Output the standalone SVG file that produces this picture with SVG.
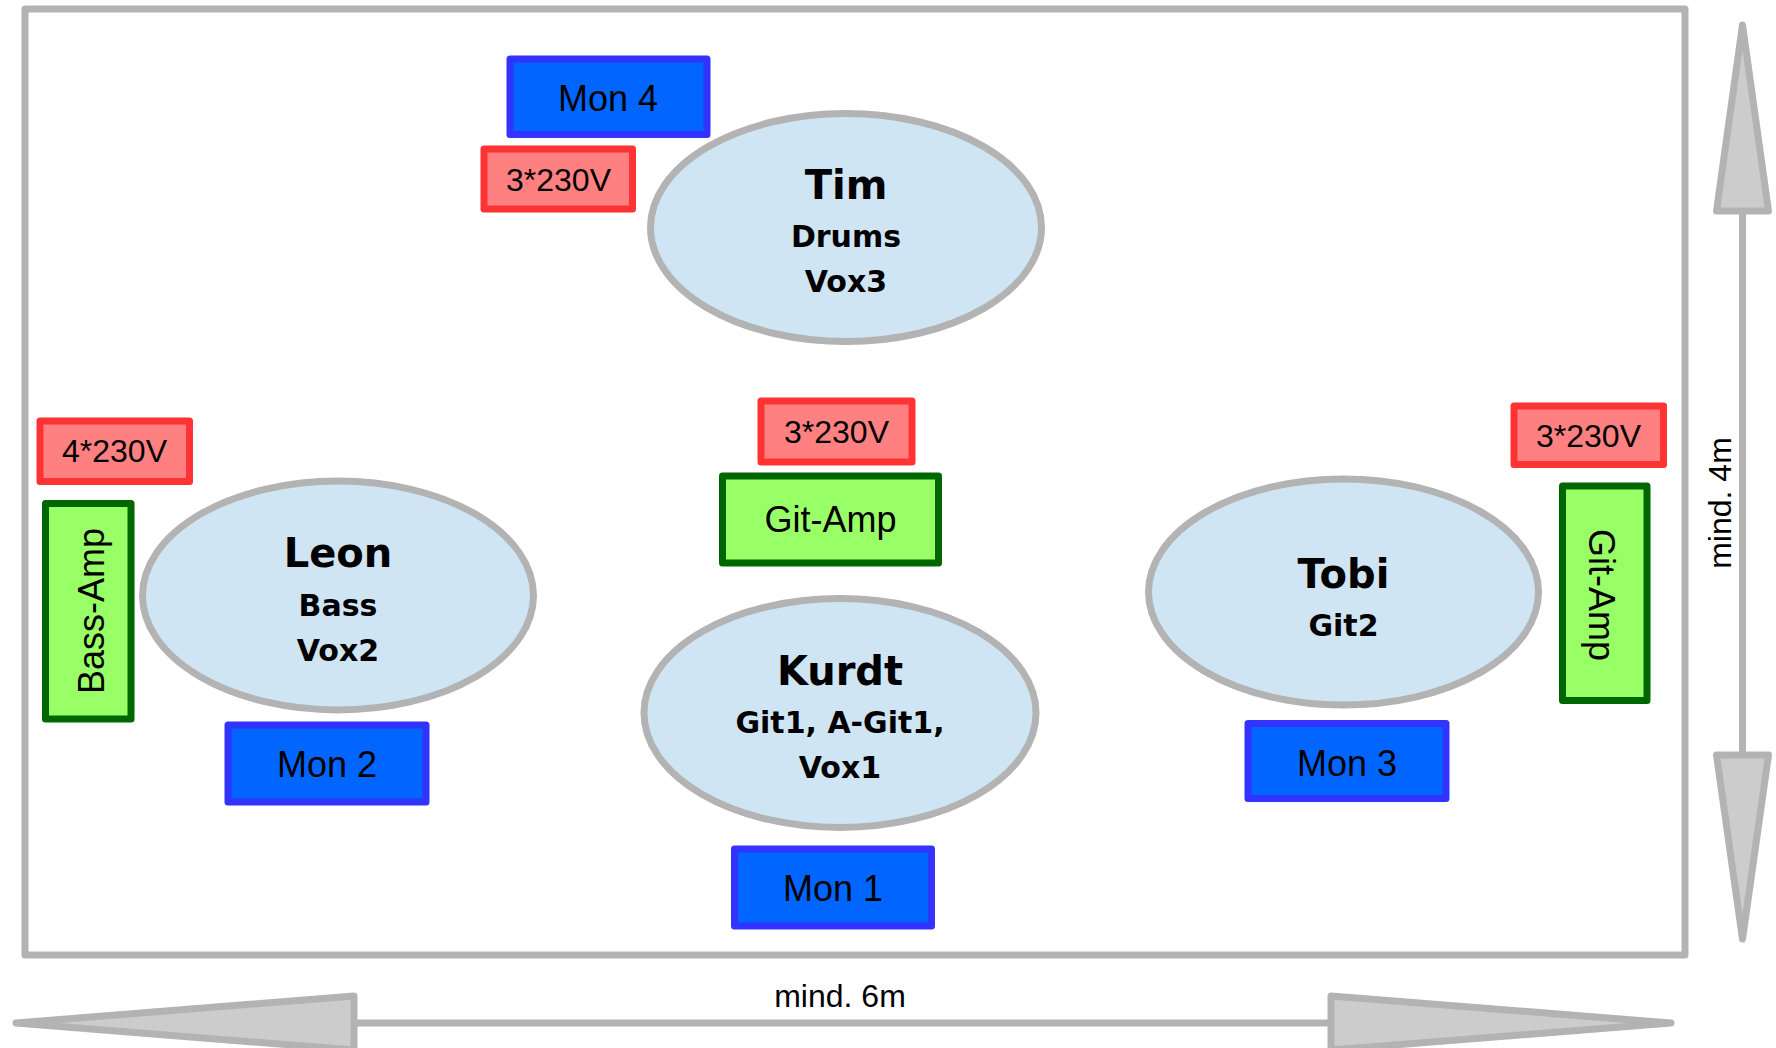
<svg xmlns="http://www.w3.org/2000/svg" width="1776" height="1048" viewBox="0 0 1776 1048">
<style>
.frame{fill:#ffffff;stroke:#b3b3b3;stroke-width:7;stroke-linejoin:round}
.mon{fill:#0066ff;stroke:#3333ff;stroke-width:7;stroke-linejoin:round}
.pwr{fill:#ff8080;stroke:#ff3333;stroke-width:7;stroke-linejoin:round}
.amp{fill:#99ff66;stroke:#006600;stroke-width:7;stroke-linejoin:round}
.pers{fill:#cfe5f3;stroke:#b3b3b3;stroke-width:7}
.line{stroke:#b3b3b3;stroke-width:7;fill:none}
.head{fill:#cccccc;stroke:#b3b3b3;stroke-width:7;stroke-linejoin:round}
.lbl{font-family:"Liberation Sans",Arial,sans-serif;fill:#000;text-anchor:middle}
.name{font-family:"DejaVu Sans",Verdana,sans-serif;font-weight:bold;font-size:40px;fill:#000;text-anchor:middle}
.sub{font-family:"DejaVu Sans",Verdana,sans-serif;font-weight:bold;font-size:30px;fill:#000;text-anchor:middle}
</style>
<rect class="frame" x="25" y="9" width="1660" height="946"/>

<g id="tim">
<ellipse class="pers" cx="846" cy="227.5" rx="195.5" ry="114"/>
<text class="name" x="846" y="199">Tim</text>
<text class="sub" x="846" y="247">Drums</text>
<text class="sub" x="846" y="292">Vox3</text>
</g>
<g id="mon4">
<rect class="mon" x="510" y="59" width="197" height="75.5"/>
<text class="lbl" x="608" y="110.5" font-size="36">Mon 4</text>
</g>
<g id="pwr-tim">
<rect class="pwr" x="484" y="149" width="148.5" height="60"/>
<text class="lbl" x="558.5" y="190.5" font-size="32">3*230V</text>
</g>

<g id="leon">
<ellipse class="pers" cx="338" cy="595.5" rx="195.5" ry="114.5"/>
<text class="name" x="338" y="566.5">Leon</text>
<text class="sub" x="338" y="616">Bass</text>
<text class="sub" x="338" y="661">Vox2</text>
</g>
<g id="pwr-leon">
<rect class="pwr" x="40" y="421" width="149.5" height="60.5"/>
<text class="lbl" x="114.5" y="462" font-size="32">4*230V</text>
</g>
<g id="bass-amp">
<rect class="amp" x="45.5" y="503.5" width="85.5" height="215.5"/>
<text class="lbl" font-size="36" transform="translate(104,611) rotate(-90)" x="0" y="0">Bass-Amp</text>
</g>
<g id="mon2">
<rect class="mon" x="228" y="725" width="198" height="77"/>
<text class="lbl" x="327" y="776.5" font-size="36">Mon 2</text>
</g>

<g id="pwr-kurdt">
<rect class="pwr" x="761" y="401" width="151" height="61"/>
<text class="lbl" x="836.5" y="442.5" font-size="32">3*230V</text>
</g>
<g id="git-amp-kurdt">
<rect class="amp" x="722.5" y="476" width="216" height="87"/>
<text class="lbl" x="830.5" y="532" font-size="36">Git-Amp</text>
</g>
<g id="kurdt">
<ellipse class="pers" cx="840" cy="713" rx="196" ry="114.5"/>
<text class="name" x="840" y="685">Kurdt</text>
<text class="sub" x="840" y="733">Git1, A-Git1,</text>
<text class="sub" x="840" y="778">Vox1</text>
</g>
<g id="mon1">
<rect class="mon" x="734.5" y="849" width="197" height="77"/>
<text class="lbl" x="833" y="900.5" font-size="36">Mon 1</text>
</g>

<g id="tobi">
<ellipse class="pers" cx="1343.5" cy="592" rx="195" ry="113"/>
<text class="name" x="1343.5" y="588">Tobi</text>
<text class="sub" x="1343.5" y="636">Git2</text>
</g>
<g id="pwr-tobi">
<rect class="pwr" x="1514" y="406" width="149.5" height="58.5"/>
<text class="lbl" x="1588.5" y="446.5" font-size="32">3*230V</text>
</g>
<g id="git-amp-tobi">
<rect class="amp" x="1562.5" y="486" width="84.5" height="214.5"/>
<text class="lbl" font-size="36" transform="translate(1589,595) rotate(90)" x="0" y="0">Git-Amp</text>
</g>
<g id="mon3">
<rect class="mon" x="1248" y="723.5" width="198" height="75"/>
<text class="lbl" x="1347" y="775.5" font-size="36">Mon 3</text>
</g>

<g id="connectors">
<line class="line" x1="354" y1="1023" x2="1331" y2="1023"/>
<polygon class="head" points="354,996 16,1023 354,1050"/>
<polygon class="head" points="1331,996 1671,1023 1331,1050"/>
<line class="line" x1="1742.5" y1="211" x2="1742.5" y2="755"/>
<polygon class="head" points="1716.5,211 1742.5,25 1768.5,211"/>
<polygon class="head" points="1716.5,755 1742.5,939 1768.5,755"/>
</g>
<g id="dims">
<text class="lbl" x="840" y="1006.5" font-size="32">mind. 6m</text>
<text class="lbl" font-size="32" transform="translate(1730.5,503) rotate(-90)" x="0" y="0">mind. 4m</text>
</g>
</svg>
